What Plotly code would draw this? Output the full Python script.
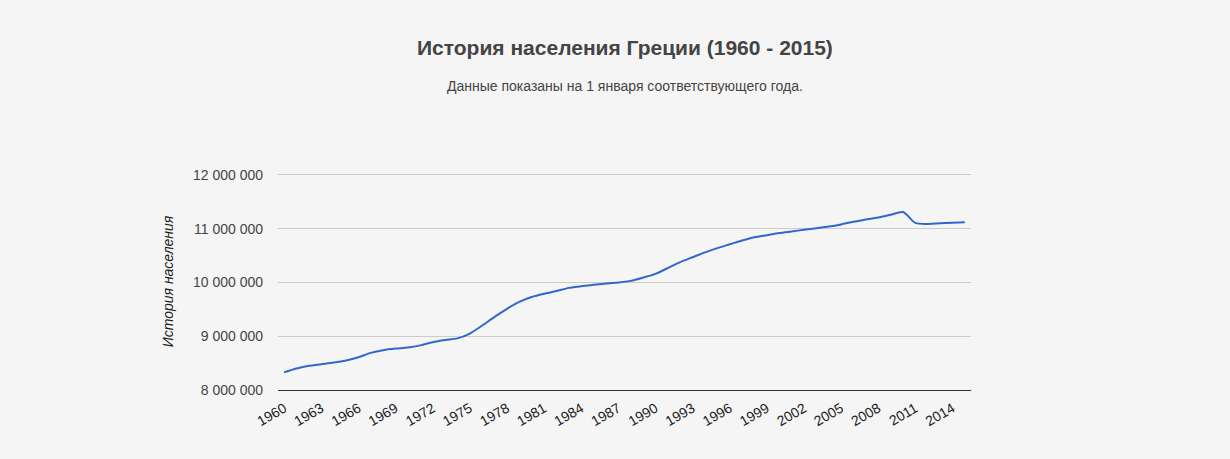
import plotly.graph_objects as go

years = list(range(1960, 2016))
population = [
    8330000, 8400000, 8450000, 8480000, 8510000, 8550000, 8610000, 8690000, 8740000, 8770000,
    8790000, 8830000, 8890000, 8930000, 8960000, 9050000, 9200000, 9360000, 9510000, 9640000,
    9730000, 9790000, 9840000, 9900000, 9930000, 9960000, 9980000, 10000000, 10030000, 10090000,
    10160000, 10270000, 10380000, 10470000, 10560000, 10640000, 10710000, 10780000, 10840000, 10880000,
    10920000, 10950000, 10980000, 11010000, 11040000, 11080000, 11130000, 11170000, 11210000, 11260000,
    11310000, 11110000, 11090000, 11100000, 11110000, 11120000,
]
tick_years = list(range(1960, 2015, 3))
y_ticks = [8000000, 9000000, 10000000, 11000000, 12000000]

title_text = "История населения Греции (1960 - 2015)"
subtitle_text = "Данные показаны на 1 января соответствующего года."
y_title = "История населения"

W, H = 1230, 459
ML, MR, MT, MB = 278, 259, 173, 69

fig = go.Figure()
fig.add_trace(go.Scatter(
    x=years, y=population, mode="lines",
    line=dict(color="#3366cc", width=2, shape="spline", smoothing=0.8),
    hoverinfo="x+y",
))

plot_h = H - MT - MB


def py(pix):
    return (H - MB - pix) / plot_h


fig.update_layout(
    width=W, height=H,
    paper_bgcolor="#f5f5f5", plot_bgcolor="#f5f5f5",
    margin=dict(l=ML, r=MR, t=MT, b=MB),
    separators=". ",
    showlegend=False,
    font=dict(family="Liberation Sans, Arial, sans-serif", size=14, color="#444444"),
    annotations=[
        dict(text="<b>" + title_text + "</b>", x=0.5, y=py(48), xref="paper", yref="paper",
             yanchor="middle", showarrow=False, font=dict(size=21, color="#444444")),
        dict(text=subtitle_text, x=0.5, y=py(86), xref="paper", yref="paper",
             yanchor="middle", showarrow=False, font=dict(size=14, color="#444444")),
    ],
)

fig.update_xaxes(
    range=[1959.5, 2015.5], tickmode="array", tickvals=tick_years,
    ticktext=[str(y) for y in tick_years], tickangle=-30,
    showgrid=False, zeroline=False, showline=True, linecolor="#333333", linewidth=1,
    ticks="outside", ticklen=4, tickcolor="rgba(0,0,0,0)",
    tickfont=dict(size=14, color="#222222"),
)
fig.update_yaxes(
    range=[8000000, 12037000], tickvals=y_ticks, tickformat=",d",
    showgrid=True, gridcolor="#cccccc", gridwidth=1, zeroline=False,
    ticks="", ticklabelstandoff=14, tickfont=dict(size=14, color="#444444"),
    title=dict(text="<i>" + y_title + "</i>", font=dict(size=14, color="#222222"), standoff=16),
)

fig.write_html(
    "out.html",
    config={"displayModeBar": False},
    post_script="document.body.style.margin='0';document.body.style.background='#f5f5f5';",
)
